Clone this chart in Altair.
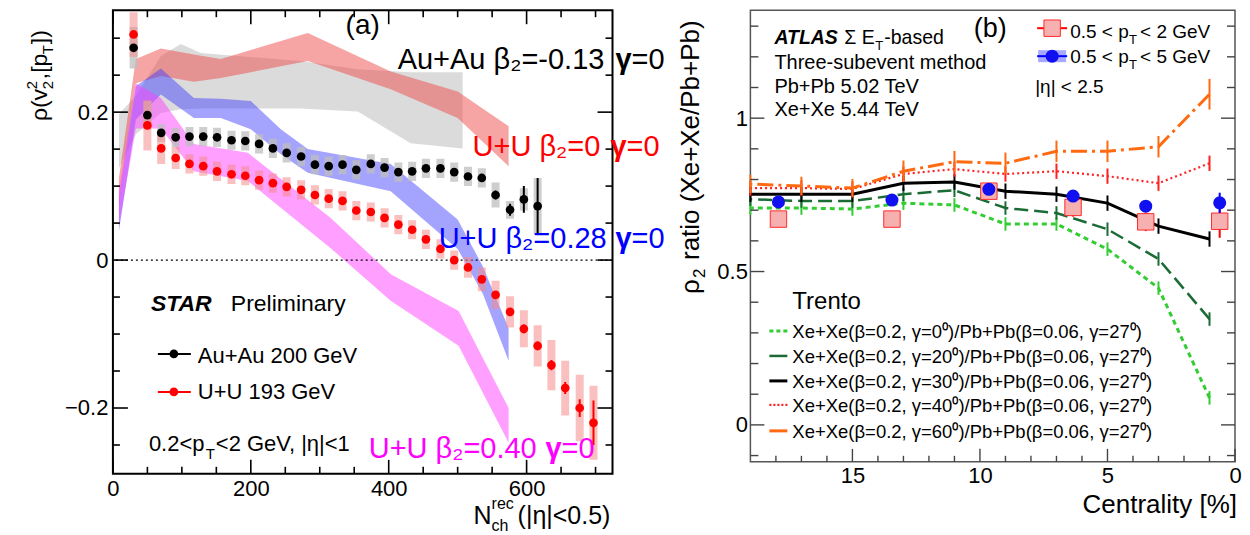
import altair as alt
import pandas as pd

FONT = "Liberation Sans"

# ================= panel (a): STAR =================
nch_auau = [30, 50, 70, 91, 111, 131, 151, 172, 192, 212, 232, 252, 273, 293, 313,
            333, 353, 374, 394, 414, 434, 454, 475, 495, 515, 535, 555, 576, 596, 616]
rho_auau = [0.287, 0.196, 0.172, 0.166, 0.167, 0.167, 0.166, 0.162, 0.161, 0.157,
            0.151, 0.145, 0.140, 0.129, 0.127, 0.129, 0.122, 0.130, 0.125, 0.119,
            0.120, 0.124, 0.124, 0.119, 0.113, 0.111, 0.088, 0.068, 0.082, 0.073]
sys_auau = [0.028, 0.019, 0.012, 0.013, 0.013, 0.013, 0.013, 0.013, 0.013, 0.013,
            0.013, 0.013, 0.013, 0.013, 0.013, 0.013, 0.013, 0.013, 0.013, 0.013,
            0.013, 0.013, 0.013, 0.013, 0.013, 0.013, 0.017, 0.012, 0.015, 0.038]
stat_auau = [0.003, 0.003, 0.003, 0.003, 0.003, 0.003, 0.003, 0.003, 0.003, 0.003,
             0.003, 0.003, 0.003, 0.003, 0.003, 0.003, 0.003, 0.003, 0.003, 0.003,
             0.003, 0.003, 0.003, 0.004, 0.004, 0.005, 0.006, 0.008, 0.018, 0.038]

nch_uu = [30, 50, 70, 91, 111, 131, 151, 172, 192, 212, 232, 252, 273, 293, 313,
          333, 353, 374, 394, 414, 434, 454, 475, 495, 515, 535, 555, 576, 596, 616,
          636, 656, 677, 697]
rho_uu = [0.305, 0.182, 0.151, 0.138, 0.130, 0.127, 0.120, 0.116, 0.114, 0.108,
          0.104, 0.099, 0.095, 0.088, 0.083, 0.080, 0.067, 0.065, 0.057, 0.048,
          0.041, 0.028, 0.015, 0.000, -0.010, -0.026, -0.047, -0.070, -0.093, -0.116,
          -0.142, -0.173, -0.200, -0.220]
sys_uu = [0.030, 0.034, 0.021, 0.015, 0.013, 0.013, 0.013, 0.013, 0.013, 0.013,
          0.013, 0.013, 0.013, 0.013, 0.013, 0.013, 0.013, 0.013, 0.013, 0.013,
          0.013, 0.013, 0.013, 0.013, 0.014, 0.016, 0.019, 0.021, 0.025, 0.028,
          0.034, 0.037, 0.045, 0.050]
stat_uu = [0.003, 0.003, 0.003, 0.003, 0.003, 0.003, 0.003, 0.003, 0.003, 0.003,
           0.003, 0.003, 0.003, 0.003, 0.003, 0.003, 0.003, 0.003, 0.003, 0.003,
           0.003, 0.003, 0.003, 0.003, 0.004, 0.004, 0.005, 0.005, 0.006, 0.006,
           0.007, 0.008, 0.012, 0.030]

# model bands: x nodes, lower and upper edge
gray_x = [8.7, 33.3, 69.6, 98.6, 127.5, 272.5, 355.1, 431.9, 507.2]
gray_lo = [0.124, 0.170, 0.199, 0.204, 0.205, 0.205, 0.201, 0.158, 0.151]
gray_hi = [0.197, 0.222, 0.276, 0.292, 0.280, 0.269, 0.258, 0.254, 0.254]

red_x = [8.7, 33.3, 69.6, 117.4, 156.5, 282.6, 402.9, 500.0, 573.9]
red_lo = [0.076, 0.239, 0.249, 0.241, 0.246, 0.269, 0.231, 0.192, 0.127]
red_hi = [0.111, 0.272, 0.286, 0.278, 0.272, 0.307, 0.255, 0.228, 0.181]

blue_x = [8.7, 33.3, 69.6, 117.4, 156.5, 200.0, 243.5, 282.6, 402.9, 500.0, 536.2, 573.9]
blue_lo = [0.039, 0.190, 0.224, 0.192, 0.192, 0.177, 0.143, 0.118, 0.093, 0.015, -0.045, -0.136]
blue_hi = [0.080, 0.235, 0.259, 0.219, 0.218, 0.215, 0.177, 0.150, 0.130, 0.055, -0.008, -0.092]

mag_x = [8.7, 33.3, 69.6, 117.4, 195.7, 315.9, 402.9, 501.4, 573.9]
mag_lo = [0.046, 0.178, 0.178, 0.120, 0.107, 0.016, -0.055, -0.116, -0.247]
mag_hi = [0.093, 0.239, 0.219, 0.157, 0.145, 0.057, -0.019, -0.069, -0.200]

a_xmaj = [0, 200, 400, 600]
a_xmin = [50, 100, 150, 250, 300, 350, 450, 500, 550, 650, 700]
a_ymaj = [-0.2, 0, 0.2]
a_ymin = [-0.25, -0.15, -0.1, -0.05, 0.05, 0.1, 0.15, 0.25, 0.3]

# ================= panel (b): ATLAS =================
cent = [19, 17, 15, 13, 11, 9, 7, 5, 3, 1]
g0 = [0.707, 0.707, 0.704, 0.723, 0.717, 0.655, 0.655, 0.573, 0.446, 0.088]
g20 = [0.736, 0.730, 0.730, 0.752, 0.765, 0.707, 0.691, 0.638, 0.541, 0.345]
g30 = [0.752, 0.752, 0.752, 0.788, 0.792, 0.762, 0.752, 0.723, 0.648, 0.606]
g40 = [0.772, 0.772, 0.769, 0.818, 0.834, 0.818, 0.827, 0.811, 0.788, 0.853]
g60 = [0.785, 0.779, 0.772, 0.827, 0.858, 0.853, 0.892, 0.892, 0.907, 1.078]
e0 = [0.022, 0.022, 0.022, 0.022, 0.022, 0.022, 0.022, 0.022, 0.022, 0.022]
e20 = [0.022, 0.022, 0.022, 0.022, 0.022, 0.022, 0.022, 0.022, 0.022, 0.022]
e30 = [0.025, 0.025, 0.025, 0.025, 0.025, 0.025, 0.025, 0.025, 0.025, 0.025]
e40 = [0.025, 0.025, 0.025, 0.025, 0.025, 0.025, 0.025, 0.025, 0.025, 0.025]
e60 = [0.030, 0.030, 0.030, 0.035, 0.035, 0.035, 0.035, 0.035, 0.035, 0.050]

pt_cent = [17.9, 13.45, 9.65, 6.35, 3.5, 0.6]
r2_low = [0.671, 0.671, 0.762, 0.709, 0.662, 0.664]
r2_low_err = [0.012, 0.012, 0.012, 0.030, 0.030, 0.054]
r2_high = [0.727, 0.733, 0.768, 0.746, 0.713, 0.724]
r2_high_err = [0.006, 0.006, 0.006, 0.006, 0.010, 0.033]

b_xmaj = [0, 5, 10, 15]
b_xmin = [1, 2, 3, 4, 6, 7, 8, 9, 11, 12, 13, 14, 16, 17, 18]
b_ymaj = [0, 0.5, 1]
b_ymin = [-0.1, 0.1, 0.2, 0.3, 0.4, 0.6, 0.7, 0.8, 0.9, 1.1, 1.2, 1.3]

model_labels = [
    "Xe+Xe(β=0.2, γ=0⁰)/Pb+Pb(β=0.06, γ=27⁰)",
    "Xe+Xe(β=0.2, γ=20⁰)/Pb+Pb(β=0.06, γ=27⁰)",
    "Xe+Xe(β=0.2, γ=30⁰)/Pb+Pb(β=0.06, γ=27⁰)",
    "Xe+Xe(β=0.2, γ=40⁰)/Pb+Pb(β=0.06, γ=27⁰)",
    "Xe+Xe(β=0.2, γ=60⁰)/Pb+Pb(β=0.06, γ=27⁰)",
]

# ---------------- helpers ----------------
WA, HA = 500, 464
WB, HB = 485, 452


def txt(s, x, y, size, color="black", weight="normal", style="normal",
        angle=0, align="left", baseline="alphabetic"):
    return alt.Chart(pd.DataFrame({"s": [s]})).mark_text(
        font=FONT, fontSize=size, color=color, fontWeight=weight,
        fontStyle=style, angle=angle, align=align, baseline=baseline
    ).encode(x=alt.value(x), y=alt.value(y), text="s:N")


def hrule(x1, x2, y, color, width, dash=None, opacity=1.0):
    kw = dict(color=color, strokeWidth=width, strokeOpacity=opacity)
    if dash:
        kw["strokeDash"] = dash
    return alt.Chart(pd.DataFrame({"k": [0]})).mark_rule(**kw).encode(
        x=alt.value(x1), x2=alt.value(x2), y=alt.value(y))


def vrule(x, y1, y2, color, width, opacity=1.0):
    return alt.Chart(pd.DataFrame({"k": [0]})).mark_rule(
        color=color, strokeWidth=width, strokeOpacity=opacity).encode(
        x=alt.value(x), y=alt.value(y1), y2=alt.value(y2))


def ticks(vals, X, Y, W, H, length, sides, color, width):
    df = pd.DataFrame({"t": vals})
    out = []
    m = alt.Chart(df).mark_rule(color=color, strokeWidth=width)
    if "bottom" in sides:
        out.append(m.encode(x=X("t:Q"), y=alt.value(H), y2=alt.value(H - length)))
    if "top" in sides:
        out.append(m.encode(x=X("t:Q"), y=alt.value(0), y2=alt.value(length)))
    if "left" in sides:
        out.append(m.encode(y=Y("t:Q"), x=alt.value(0), x2=alt.value(length)))
    if "right" in sides:
        out.append(m.encode(y=Y("t:Q"), x=alt.value(W), x2=alt.value(W - length)))
    return out


# ---------------- panel (a) ----------------
xs_a = alt.Scale(domain=[0, 724.6], nice=False, zero=False)
ys_a = alt.Scale(domain=[-0.289, 0.3378], nice=False, zero=False)
ax_a_x = alt.Axis(values=a_xmaj, format="d", ticks=False, tickSize=0, domain=False,
                  grid=False, labelFont=FONT, labelFontSize=22, labelColor="black",
                  labelPadding=5, labelFlush=False, title=None)
ax_a_y = alt.Axis(values=a_ymaj, format="~g", ticks=False, tickSize=0, domain=False,
                  grid=False, labelFont=FONT, labelFontSize=22, labelColor="black",
                  labelPadding=5, labelFlush=False, title=None)


def XA(f):
    return alt.X(f, scale=xs_a, axis=ax_a_x)


def YA(f):
    return alt.Y(f, scale=ys_a, axis=ax_a_y)


def band(xv, lo, hi, color, op):
    df = pd.DataFrame({"x": xv, "lo": lo, "hi": hi})
    return alt.Chart(df).mark_area(color=color, opacity=op, clip=True).encode(
        x=XA("x:Q"), y=YA("lo:Q"), y2="hi:Q")


df_au = pd.DataFrame({"x": nch_auau, "y": rho_auau, "s": sys_auau, "e": stat_auau})
df_au["slo"] = df_au.y - df_au.s
df_au["shi"] = df_au.y + df_au.s
df_au["elo"] = df_au.y - df_au.e
df_au["ehi"] = df_au.y + df_au.e
df_uu = pd.DataFrame({"x": nch_uu, "y": rho_uu, "s": sys_uu, "e": stat_uu})
df_uu["slo"] = df_uu.y - df_uu.s
df_uu["shi"] = df_uu.y + df_uu.s
df_uu["elo"] = df_uu.y - df_uu.e
df_uu["ehi"] = df_uu.y + df_uu.e

layers_a = [
    band(gray_x, gray_lo, gray_hi, "#b8b8b8", 0.5),
    band(red_x, red_lo, red_hi, "#ee4a4a", 0.5),
    band(blue_x, blue_lo, blue_hi, "#4040ff", 0.48),
    band(mag_x, mag_lo, mag_hi, "#ff40ff", 0.5),
    alt.Chart(pd.DataFrame({"k": [0]})).mark_rule(
        color="black", strokeWidth=1.3, strokeDash=[2, 3]).encode(
        y=alt.Y(datum=0, scale=ys_a, axis=ax_a_y)),
    alt.Chart(df_au).mark_rule(color="#bdbdbd", strokeWidth=8, opacity=0.75, clip=True).encode(
        x=XA("x:Q"), y=YA("slo:Q"), y2="shi:Q"),
    alt.Chart(df_uu).mark_rule(color="#f58a8a", strokeWidth=8, opacity=0.55, clip=True).encode(
        x=XA("x:Q"), y=YA("slo:Q"), y2="shi:Q"),
    alt.Chart(df_au).mark_rule(color="black", strokeWidth=2, clip=True).encode(
        x=XA("x:Q"), y=YA("elo:Q"), y2="ehi:Q"),
    alt.Chart(df_uu).mark_rule(color="red", strokeWidth=2, clip=True).encode(
        x=XA("x:Q"), y=YA("elo:Q"), y2="ehi:Q"),
    alt.Chart(df_au).mark_circle(color="black", size=76, opacity=1).encode(
        x=XA("x:Q"), y=YA("y:Q")),
    alt.Chart(df_uu).mark_circle(color="#ff0000", size=76, opacity=1).encode(
        x=XA("x:Q"), y=YA("y:Q")),
]
layers_a += ticks(a_xmaj, XA, YA, WA, HA, 14, ["bottom", "top"], "black", 1.6)
layers_a += ticks(a_xmin, XA, YA, WA, HA, 7, ["bottom", "top"], "black", 1.6)
layers_a += ticks(a_ymaj, XA, YA, WA, HA, 15, ["left", "right"], "black", 1.6)
layers_a += ticks(a_ymin, XA, YA, WA, HA, 7, ["left", "right"], "black", 1.6)

layers_a += [
    txt("(a)", 250, 24, 28, align="center"),
    txt("Au+Au β₂=-0.13", 285, 59, 29),
    txt("γ", 503, 59, 29, weight="bold"),
    txt("=0", 519, 59, 29),
    txt("U+U β₂=0", 360, 146, 29, color="#ff0000"),
    txt("γ", 498, 146, 29, color="#ff0000", weight="bold"),
    txt("=0", 514, 146, 29, color="#ff0000"),
    txt("U+U β₂=0.28", 326, 238, 29, color="#0000ff"),
    txt("γ", 503, 238, 29, color="#0000ff", weight="bold"),
    txt("=0", 519, 238, 29, color="#0000ff"),
    txt("U+U β₂=0.40", 256, 448, 29, color="#ff00ff"),
    txt("γ", 433, 448, 29, color="#ff00ff", weight="bold"),
    txt("=0", 449, 448, 29, color="#ff00ff"),
    txt("STAR", 38, 301, 23, weight="bold", style="italic"),
    txt("Preliminary", 118, 301, 23),
    hrule(45, 78, 344, "black", 2),
    alt.Chart(pd.DataFrame({"k": [0]})).mark_circle(color="black", size=76, opacity=1).encode(
        x=alt.value(61), y=alt.value(344)),
    txt("Au+Au 200 GeV", 85, 353, 22),
    hrule(45, 78, 382, "red", 2),
    alt.Chart(pd.DataFrame({"k": [0]})).mark_circle(color="red", size=76, opacity=1).encode(
        x=alt.value(61), y=alt.value(382)),
    txt("U+U 193 GeV", 85, 389, 22),
    txt("0.2<p", 36, 441, 22),
    txt("T", 93, 449, 15),
    txt("<2 GeV, |η|<1", 103, 441, 22),
    # x title
    txt("N", 361, 514, 25),
    txt("rec", 379, 499, 16),
    txt("ch", 379, 521, 16),
    txt("(|η|<0.5)", 405, 514, 25),
    # y title (rotated)
    txt("ρ(v", -66, 111, 23, angle=270),
    txt("2", -76, 79, 15, angle=270),
    txt("2", -60, 79, 15, angle=270),
    txt(",[p", -66, 69, 23, angle=270),
    txt("T", -60, 44, 15, angle=270),
    txt("])", -66, 34, 23, angle=270),
    # invisible layout anchors
    vrule(-104, -1, 10, "white", 1, opacity=0),
    vrule(558, -1, 10, "white", 1, opacity=0),
]

panel_a = alt.layer(*layers_a).properties(
    width=WA, height=HA,
    view=alt.ViewBackground(stroke="black", strokeWidth=2))

# ---------------- panel (b) ----------------
xs_b = alt.Scale(domain=[0, 19], reverse=True, nice=False, zero=False)
ys_b = alt.Scale(domain=[-0.1205, 1.352], nice=False, zero=False)
ax_b_x = alt.Axis(values=b_xmaj, format="d", ticks=False, tickSize=0, domain=False,
                  grid=False, labelFont=FONT, labelFontSize=22, labelColor="black",
                  labelPadding=4, labelFlush=False, title=None)
ax_b_y = alt.Axis(values=b_ymaj, format="~g", ticks=False, tickSize=0, domain=False,
                  grid=False, labelFont=FONT, labelFontSize=22, labelColor="black",
                  labelPadding=3, labelFlush=False, title=None)


def XB(f):
    return alt.X(f, scale=xs_b, axis=ax_b_x)


def YB(f):
    return alt.Y(f, scale=ys_b, axis=ax_b_y)


model_vals = [g0, g20, g30, g40, g60]
model_errs = [e0, e20, e30, e40, e60]
model_colors = ["#33cc33", "#1b6b35", "#000000", "#ff2020", "#ff6a10"]
model_dash = [[5, 4], [14, 6], None, [2, 3], [16, 5, 3, 5]]
model_width = [3, 2.5, 3, 2.2, 3]

layers_b = []
for vals, errs, col, dash, wd in zip(model_vals, model_errs, model_colors, model_dash, model_width):
    df = pd.DataFrame({"c": cent, "v": vals, "e": errs})
    df["lo"] = df.v - df.e
    df["hi"] = df.v + df.e
    kw = dict(color=col, strokeWidth=wd)
    if dash:
        kw["strokeDash"] = dash
    layers_b.append(alt.Chart(df).mark_line(**kw).encode(
        x=XB("c:Q"), y=YB("v:Q"), order="c:Q"))
    layers_b.append(alt.Chart(df).mark_rule(color=col, strokeWidth=2).encode(
        x=XB("c:Q"), y=YB("lo:Q"), y2="hi:Q"))

df_lo = pd.DataFrame({"c": pt_cent, "v": r2_low, "e": r2_low_err})
df_lo["lo"] = df_lo.v - df_lo.e
df_lo["hi"] = df_lo.v + df_lo.e
df_hi = pd.DataFrame({"c": pt_cent, "v": r2_high, "e": r2_high_err})
df_hi["lo"] = df_hi.v - df_hi.e
df_hi["hi"] = df_hi.v + df_hi.e

layers_b += [
    alt.Chart(df_lo).mark_rule(color="#ff0000", strokeWidth=2).encode(
        x=XB("c:Q"), y=YB("lo:Q"), y2="hi:Q"),
    alt.Chart(df_lo).mark_point(shape="square", size=270, filled=True, fill="#f7b0b0",
                                stroke="#ff2a2a", strokeWidth=1, opacity=1).encode(
        x=XB("c:Q"), y=YB("v:Q")),
    alt.Chart(df_hi).mark_rule(color="#0000ff", strokeWidth=2).encode(
        x=XB("c:Q"), y=YB("lo:Q"), y2="hi:Q"),
    alt.Chart(df_hi).mark_circle(color="#1010f0", size=170, opacity=1).encode(
        x=XB("c:Q"), y=YB("v:Q")),
]
layers_b += ticks(b_xmaj, XB, YB, WB, HB, 13, ["bottom"], "#444444", 1.4)
layers_b += ticks(b_xmin, XB, YB, WB, HB, 6, ["bottom"], "#444444", 1.4)
layers_b += ticks(b_ymaj, XB, YB, WB, HB, 14, ["left", "right"], "#444444", 1.4)
layers_b += ticks(b_ymin, XB, YB, WB, HB, 8, ["left", "right"], "#444444", 1.4)

legend_y = [321, 346, 371, 395, 421]
for ly, lab, col, dash, wd in zip(legend_y, model_labels, model_colors, model_dash, model_width):
    d = [4, 3] if dash == [5, 4] else None
    if dash == [2, 3]:
        d = [2, 2]
    layers_b.append(hrule(19, 37, ly, col, wd, dash=d))
    layers_b.append(txt(lab, 42, ly + 7, 18.5))

layers_b += [
    txt("ATLAS", 24, 34, 19.5, weight="bold", style="italic"),
    txt("Σ E", 94, 34, 19.5),
    txt("T", 125, 40, 13),
    txt("-based", 134, 34, 19.5),
    txt("Three-subevent method", 24, 59, 20),
    txt("Pb+Pb 5.02 TeV", 24, 83, 20),
    txt("Xe+Xe 5.44 TeV", 24, 106, 20),
    txt("(b)", 240, 27, 27, align="center"),
    hrule(287, 317, 18, "#ff0000", 2),
    alt.Chart(pd.DataFrame({"k": [0]})).mark_point(
        shape="square", size=270, filled=True, fill="#f7b0b0", stroke="#ff2a2a",
        strokeWidth=1, opacity=1).encode(x=alt.value(302), y=alt.value(18)),
    txt("0.5 < p", 320, 28, 19),
    txt("T", 379, 34, 13),
    txt("< 2 GeV", 390, 28, 19),
    hrule(288, 316, 46, "#a8a8ff", 12),
    hrule(287, 317, 46, "#0000ff", 2),
    alt.Chart(pd.DataFrame({"k": [0]})).mark_circle(color="#1010f0", size=170, opacity=1).encode(
        x=alt.value(302), y=alt.value(46)),
    txt("0.5 < p", 320, 53, 19),
    txt("T", 379, 59, 13),
    txt("< 5 GeV", 390, 53, 19),
    txt("|η| < 2.5", 285, 83, 19),
    txt("Trento", 42, 299, 24),
    txt("Centrality [%]", 487, 503, 26, align="right"),
    txt("ρ", -51, 284, 26, angle=270),
    txt("2", -45, 268, 17, angle=270),
    txt("ratio (Xe+Xe/Pb+Pb)", -51, 250, 26, angle=270),
    vrule(-78, -1, 10, "white", 1, opacity=0),
]

panel_b = alt.layer(*layers_b).properties(
    width=WB, height=HB,
    view=alt.ViewBackground(stroke="#555555", strokeWidth=1.5))

chart = alt.hconcat(panel_a, panel_b, spacing=0).properties(
    padding={"left": 0, "top": 0, "right": 0, "bottom": 0}
).configure_view(strokeWidth=1.5)

chart.save("out.html", embed_options={"renderer": "svg", "actions": False})
